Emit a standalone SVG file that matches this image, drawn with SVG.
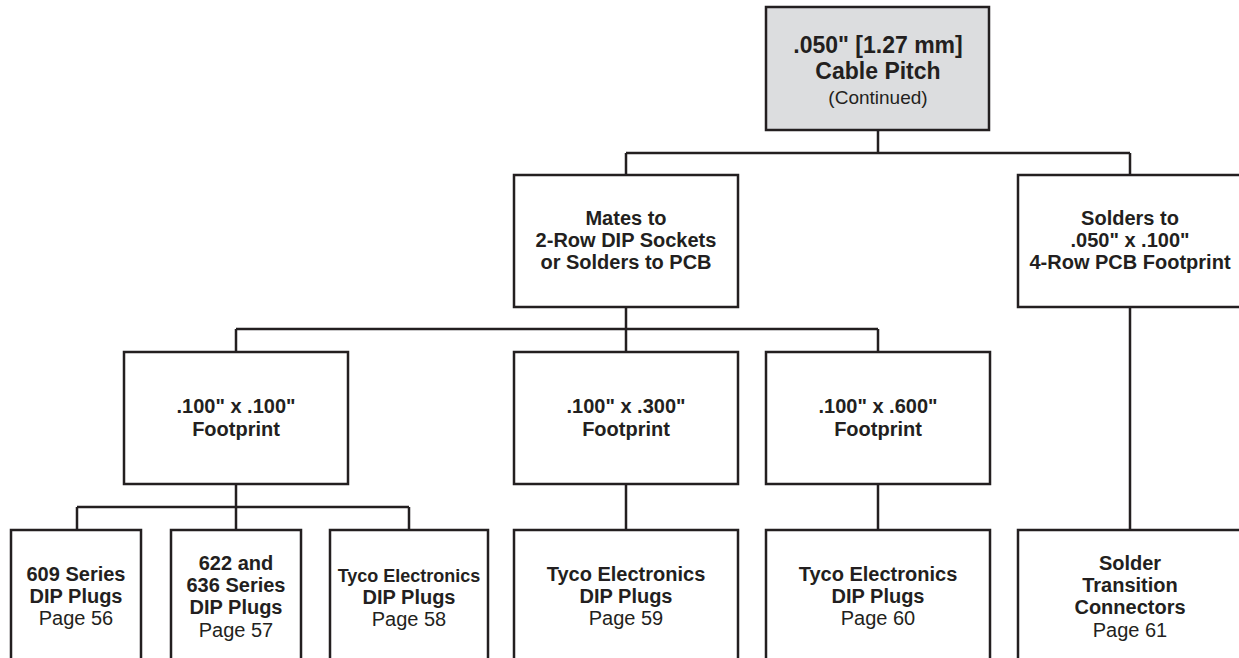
<svg xmlns="http://www.w3.org/2000/svg" width="1239" height="658" viewBox="0 0 1239 658">
<style>
.box{fill:#ffffff;stroke:#231f20;stroke-width:2.5}
.root{fill:#dcdddf;stroke:#231f20;stroke-width:2.5}
.ln{fill:none;stroke:#231f20;stroke-width:2.5}
text{font-family:"Liberation Sans",Arial,Helvetica,sans-serif;fill:#231f20;text-anchor:middle;font-size:20px}
.b{font-weight:bold}
.big{font-size:23px;font-weight:bold}
</style>
<rect width="1239" height="658" fill="#ffffff"/>
<g id="connectors">
<path class="ln" d="M878,130 V153 M626,153 H1130 M626,153 V175 M1130,153 V175"/>
<path class="ln" d="M626,307 V329 M236,329 H878 M236,329 V352 M626,329 V352 M878,329 V352"/>
<path class="ln" d="M236,484 V507 M77,507 H409 M77,507 V530 M236,507 V530 M409,507 V530"/>
<path class="ln" d="M626,484 V530 M878,484 V530 M1130,307 V530"/>
</g>
<g id="root">
<rect class="root" x="766" y="7" width="223" height="123"/>
<text x="878" y="53" class="big">.050" [1.27 mm]</text>
<text x="878" y="79" class="big">Cable Pitch</text>
<text x="878" y="104" style="font-size:19px">(Continued)</text>
</g>
<g id="mates">
<rect class="box" x="514" y="175" width="224" height="132"/>
<text x="626" y="225" class="b">Mates to</text>
<text x="626" y="247" class="b">2-Row DIP Sockets</text>
<text x="626" y="269" class="b">or Solders to PCB</text>
</g>
<g id="solders">
<rect class="box" x="1018" y="175" width="230" height="132"/>
<text x="1130" y="225" class="b">Solders to</text>
<text x="1130" y="247" class="b">.050" x .100"</text>
<text x="1130" y="269" class="b">4-Row PCB Footprint</text>
</g>
<g id="fp100">
<rect class="box" x="124" y="352" width="224" height="132"/>
<text x="236" y="413" class="b">.100" x .100"</text>
<text x="236" y="436" class="b">Footprint</text>
</g>
<g id="fp300">
<rect class="box" x="514" y="352" width="224" height="132"/>
<text x="626" y="413" class="b">.100" x .300"</text>
<text x="626" y="436" class="b">Footprint</text>
</g>
<g id="fp600">
<rect class="box" x="766" y="352" width="224" height="132"/>
<text x="878" y="413" class="b">.100" x .600"</text>
<text x="878" y="436" class="b">Footprint</text>
</g>
<g id="p56">
<rect class="box" x="11" y="530" width="130" height="140"/>
<text x="76" y="581" class="b">609 Series</text>
<text x="76" y="603" class="b">DIP Plugs</text>
<text x="76" y="625">Page 56</text>
</g>
<g id="p57">
<rect class="box" x="171" y="530" width="130" height="140"/>
<text x="236" y="570" class="b">622 and</text>
<text x="236" y="592" class="b">636 Series</text>
<text x="236" y="614" class="b">DIP Plugs</text>
<text x="236" y="637">Page 57</text>
</g>
<g id="p58">
<rect class="box" x="330" y="530" width="158" height="140"/>
<text x="409" y="582" class="b" style="font-size:18px">Tyco Electronics</text>
<text x="409" y="604" class="b">DIP Plugs</text>
<text x="409" y="626">Page 58</text>
</g>
<g id="p59">
<rect class="box" x="514" y="530" width="224" height="140"/>
<text x="626" y="581" class="b">Tyco Electronics</text>
<text x="626" y="603" class="b">DIP Plugs</text>
<text x="626" y="625">Page 59</text>
</g>
<g id="p60">
<rect class="box" x="766" y="530" width="224" height="140"/>
<text x="878" y="581" class="b">Tyco Electronics</text>
<text x="878" y="603" class="b">DIP Plugs</text>
<text x="878" y="625">Page 60</text>
</g>
<g id="p61">
<rect class="box" x="1018" y="530" width="230" height="140"/>
<text x="1130" y="570" class="b">Solder</text>
<text x="1130" y="592" class="b">Transition</text>
<text x="1130" y="614" class="b">Connectors</text>
<text x="1130" y="637">Page 61</text>
</g>
</svg>
